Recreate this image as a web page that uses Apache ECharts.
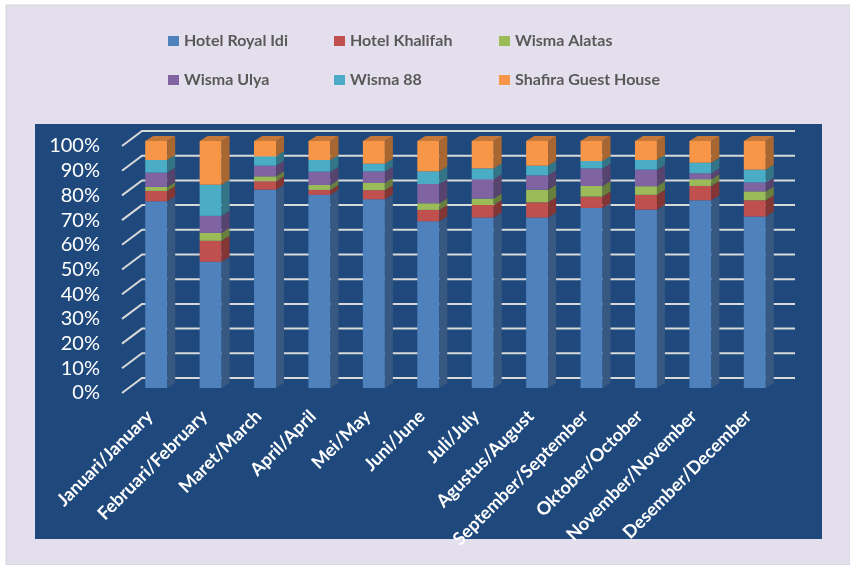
<!DOCTYPE html>
<html>
<head>
<meta charset="utf-8">
<script src="https://cdn.jsdelivr.net/npm/echarts@6/dist/echarts.min.js"></script>
<style>
html, body { margin: 0; padding: 0; background: #fff; }
#main { width: 850px; height: 565px; }
</style>
</head>
<body>
<div id="main"></div>
<script>
var months = ["Januari/January", "Februari/February", "Maret/March", "April/April", "Mei/May", "Juni/June",
  "Juli/July", "Agustus/August", "September/September", "Oktober/October", "November/November", "Desember/December"];
var hotelNames = ["Hotel Royal Idi", "Hotel Khalifah", "Wisma Alatas", "Wisma Ulya", "Wisma 88", "Shafira Guest House"];

// share of guests per month (%)
var royalIdi = [75.6, 51.1, 80.3, 78.2, 76.4, 67.5, 69.0, 69.0, 72.9, 72.2, 76.0, 69.4];
var khalifah = [4.2, 8.5, 3.4, 2.0, 3.7, 4.6, 5.1, 6.2, 4.6, 6.0, 5.8, 6.6];
var alatas = [1.6, 3.2, 2.0, 2.0, 2.9, 2.7, 2.6, 5.1, 4.3, 3.5, 2.7, 3.6];
var ulya = [5.8, 6.9, 4.3, 5.4, 4.7, 7.8, 7.8, 5.8, 7.1, 6.7, 2.4, 3.6];
var wisma88 = [5.1, 12.6, 3.8, 4.7, 3.1, 5.1, 4.4, 3.9, 3.0, 3.9, 4.3, 5.2];
var shafira = [7.7, 17.7, 6.2, 7.7, 9.2, 12.3, 11.1, 10.0, 8.1, 7.7, 8.8, 11.6];

var yTicks = [0, 10, 20, 30, 40, 50, 60, 70, 80, 90, 100];

var allSeries = [royalIdi, khalifah, alatas, ulya, wisma88, shafira];
var colors = ["#4F81BD", "#C0504D", "#9BBB59", "#8064A2", "#4BACC6", "#F79646"];

function darken(hex, f) {
  var n = parseInt(hex.slice(1), 16);
  var r = Math.round(((n >> 16) & 255) * f);
  var g = Math.round(((n >> 8) & 255) * f);
  var b = Math.round((n & 255) * f);
  return "rgb(" + r + "," + g + "," + b + ")";
}

// 100% stacking
var totals = months.map(function (m, i) {
  return allSeries.reduce(function (s, arr) { return s + arr[i]; }, 0);
});
var cum = months.map(function () { return 0; });
var stacked = allSeries.map(function (arr) {
  return arr.map(function (v, i) {
    var base = cum[i];
    cum[i] += v / totals[i] * 100;
    return [i, base, cum[i]];
  });
});

function barRender(k) {
  return function (params, api) {
    var i = api.value(0);
    var c = api.coord([i, 0])[0];
    var y0 = api.coord([i, api.value(1)])[1] - 5;
    var y1 = api.coord([i, api.value(2)])[1] - 5;
    var hw = 11, dx = 8, dy = 5;
    var kids = [
      { type: "rect", shape: { x: c - hw, y: y1, width: hw * 2, height: y0 - y1 }, style: { fill: colors[k] } },
      { type: "polygon", shape: { points: [[c + hw, y0], [c + hw + dx, y0 - dy], [c + hw + dx, y1 - dy], [c + hw, y1]] },
        style: { fill: darken(colors[k], 0.68) } }
    ];
    if (k === allSeries.length - 1) {
      kids.push({ type: "polygon", shape: { points: [[c - hw, y1], [c - hw + dx, y1 - dy], [c + hw + dx, y1 - dy], [c + hw, y1]] },
        style: { fill: darken(colors[k], 0.8) } });
    }
    return { type: "group", children: kids };
  };
}

var series = [{
  type: "custom",
  silent: true,
  z: 1,
  data: yTicks.map(function (v) { return [0, v]; }),
  encode: { x: 0, y: 1 },
  renderItem: function (params, api) {
    var cs = params.coordSys;
    var y = api.coord([0, api.value(1)])[1];
    return {
      type: "polyline",
      shape: { points: [[cs.x - 7, y], [cs.x + 13, y - 15], [cs.x + cs.width + 13, y - 15]] },
      style: { stroke: "#D9D9D9", lineWidth: 2, fill: null }
    };
  }
}];
hotelNames.forEach(function (name, k) {
  series.push({
    name: name,
    type: "custom",
    z: 3,
    itemStyle: { color: colors[k] },
    data: stacked[k],
    encode: { x: 0, y: [1, 2] },
    renderItem: barRender(k)
  });
});

// one legend per entry, laid out in 3 columns x 2 rows
var legendLeft = [163, 329, 494];
var legendTop = [28, 67];
var legends = hotelNames.map(function (name, k) {
  return {
    data: [name],
    left: legendLeft[k % 3],
    top: legendTop[Math.floor(k / 3)],
    itemWidth: 11,
    itemHeight: 10,
    icon: "rect",
    textStyle: { color: "#595959", fontFamily: "Lato", fontWeight: "bold", fontSize: 16 }
  };
});

var chart = echarts.init(document.getElementById("main"));
chart.setOption({
  backgroundColor: "#fff",
  animation: false,
  graphic: { elements: [
    { type: "rect", z: -10, silent: true, shape: { x: 6, y: 5, width: 844, height: 560 },
      style: { fill: "#E4DFEC", stroke: "#D6D2DC", lineWidth: 1 } },
    { type: "rect", z: -9, silent: true, shape: { x: 35, y: 124, width: 787, height: 415 },
      style: { fill: "#1F497D" } }
  ] },
  legend: legends,
  grid: { left: 129, right: 68, top: 146, bottom: 172 },
  xAxis: {
    type: "category",
    data: months,
    axisLine: { show: false },
    axisTick: { show: false },
    axisLabel: { rotate: 45, interval: 0, margin: 14, padding: [0, 9, 0, 0], color: "#fff",
      fontFamily: "Lato", fontWeight: "bold", fontSize: 18 }
  },
  yAxis: {
    type: "value",
    min: 0,
    max: 100,
    interval: 10,
    splitLine: { show: false },
    axisLine: { show: false },
    axisLabel: { formatter: "{value}%", margin: 29, color: "#fff", fontFamily: "Lato", fontSize: 20 }
  },
  series: series
});
</script>
</body>
</html>
